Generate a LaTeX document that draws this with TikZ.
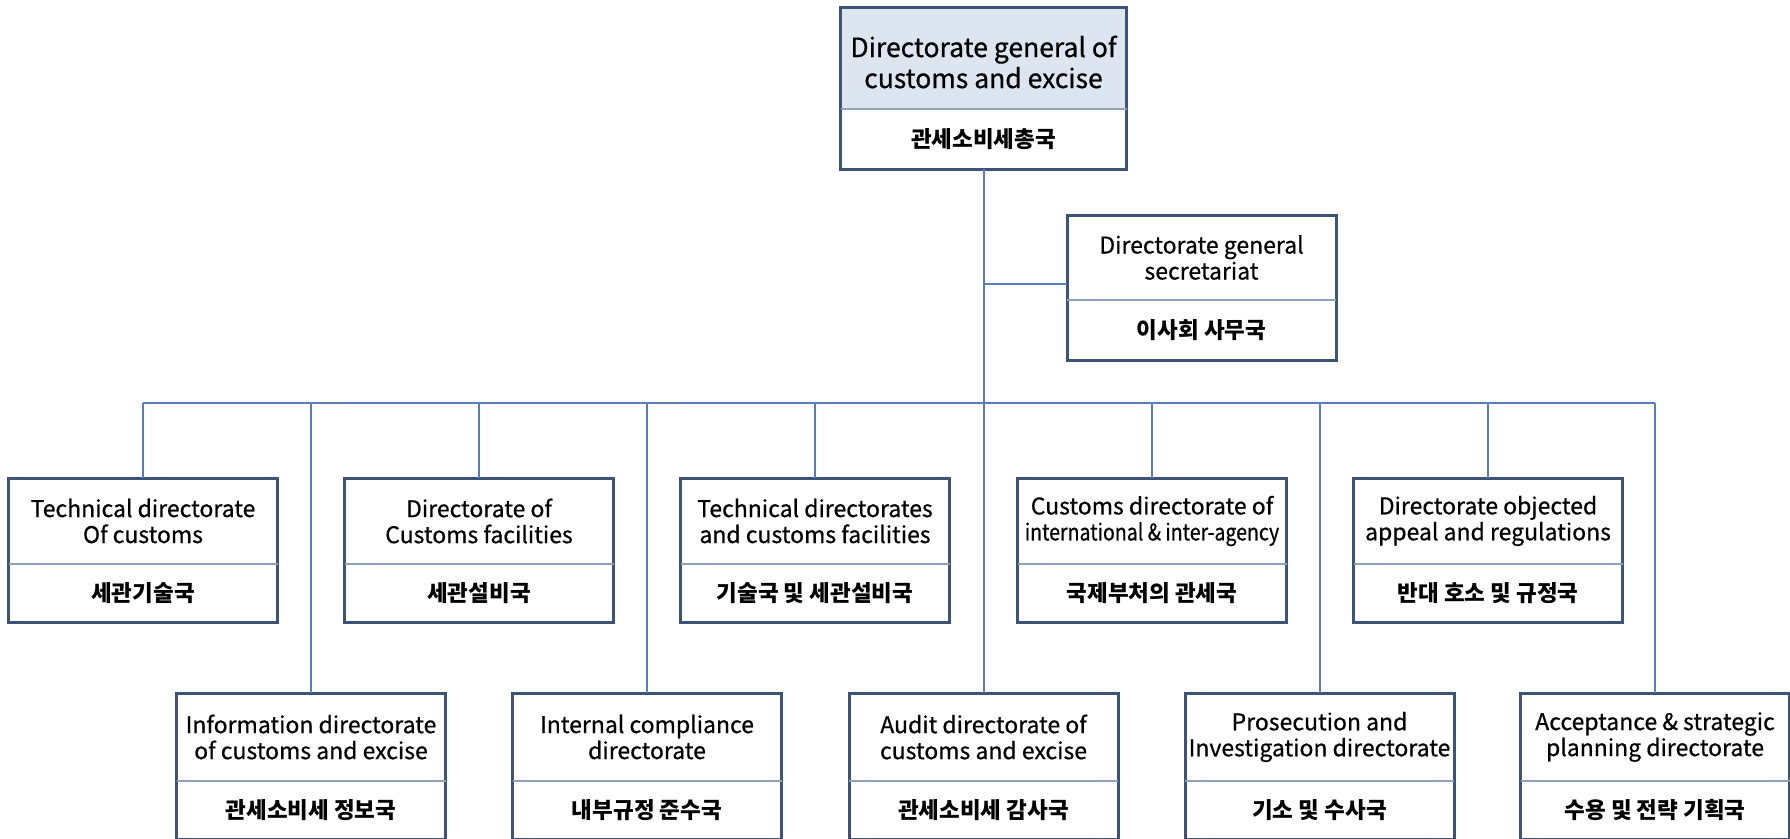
\documentclass[tikz,border=0pt]{standalone}
\usepackage{fontspec}
\setmainfont{Noto Sans CJK KR}
\newfontfamily\enfont[FakeBold=0.6]{Noto Sans CJK KR}
\newfontfamily\ennarrow[FakeBold=0.6,FakeStretch=0.85]{Noto Sans CJK KR}
\usetikzlibrary{calc}
\definecolor{boxline}{HTML}{3D5478}
\definecolor{connline}{HTML}{5A7FB8}
\definecolor{divline}{HTML}{8EA2BC}
\definecolor{topfill}{HTML}{DCE5F0}
\tikzset{
  orgbox/.style={draw=boxline, line width=3pt, rectangle, inner sep=0pt, outer sep=0pt},
  divider/.style={draw=divline, line width=1.2pt},
  conn/.style={draw=connline, line width=2pt},
  entext/.style={align=center, inner sep=0pt, font=\fontsize{23}{26}\enfont, text=black},
  bigtext/.style={align=center, inner sep=0pt, font=\fontsize{26.5}{31}\enfont, text=black, yshift=-4pt},
  kotext/.style={inner sep=0pt, font=\fontsize{22.5}{26}\selectfont\bfseries, text=black},
}
% #1 name, #2 centre x, #3 top y, #4 width, #5 upper height, #6 lower height, #7 english style, #8 english, #9 korean
\newcommand\orgunit[9]{%
  \node[orgbox, minimum width=#4pt, minimum height=#5pt+#6pt, anchor=north] (#1) at (#2,#3) {};
  \draw[divider] ([yshift=-#5pt]#1.north west) -- ([yshift=-#5pt]#1.north east);
  \node[#7] (#1-en) at ($(#1.north)+(0,#5/2)$) {#8};
  \node[kotext] (#1-ko) at ($(#1.north)+(0,#5+#6/2)$) {#9};
}
\begin{document}
\begin{tikzpicture}[x=1pt,y=-1pt]
\clip (0,0) rectangle (1790,838);
\fill[white] (0,0) rectangle (1790,838);
% top box fill
\fill[topfill] (840.5,7) rectangle (1126.5,109);
\orgunit{top}{983.5}{7}{286}{102}{60}{bigtext}{Directorate general of\\customs and excise}{관세소비세총국}
\orgunit{sec}{1201.5}{215}{269}{85}{60}{entext}{Directorate general\\secretariat}{이사회 사무국}
% upper row
\orgunit{u1}{143}{478}{269}{86}{58}{entext}{Technical directorate\\Of customs}{세관기술국}
\orgunit{u2}{479}{478}{269}{86}{58}{entext}{Directorate of\\Customs facilities}{세관설비국}
\orgunit{u3}{815}{478}{269}{86}{58}{entext}{Technical directorates\\and customs facilities}{기술국 및 세관설비국}
\orgunit{u4}{1152}{478}{269}{86}{58}{entext}{Customs directorate of\\{\ennarrow international \& inter-agency}}{국제부처의 관세국}
\orgunit{u5}{1488}{478}{269}{86}{58}{entext}{Directorate objected\\appeal and regulations}{반대 호소 및 규정국}
% lower row
\orgunit{l1}{311}{693}{269}{88}{58}{entext}{Information directorate\\of customs and excise}{관세소비세 정보국}
\orgunit{l2}{647}{693}{269}{88}{58}{entext}{Internal compliance\\directorate}{내부규정 준수국}
\orgunit{l3}{983.5}{693}{269}{88}{58}{entext}{Audit directorate of\\customs and excise}{관세소비세 감사국}
\orgunit{l4}{1319.5}{693}{269}{88}{58}{entext}{Prosecution and\\Investigation directorate}{기소 및 수사국}
\orgunit{l5}{1655}{693}{269}{88}{58}{entext}{Acceptance \& strategic\\planning directorate}{수용 및 전략 기획국}
% connectors
\coordinate (bus) at (983.5,403);
\draw[conn] (top.south) -- (l3.north);
\draw[conn] ([yshift=4pt]sec.west) -- ([yshift=4pt]sec.west -| top.south);
\draw[conn] (u1.north |- bus) -- (l5.north |- bus);
\foreach \b in {u1,u2,u3,u4,u5,l1,l2,l4,l5}{
  \draw[conn] (\b.north) -- (\b.north |- bus);
}
\end{tikzpicture}
\end{document}
